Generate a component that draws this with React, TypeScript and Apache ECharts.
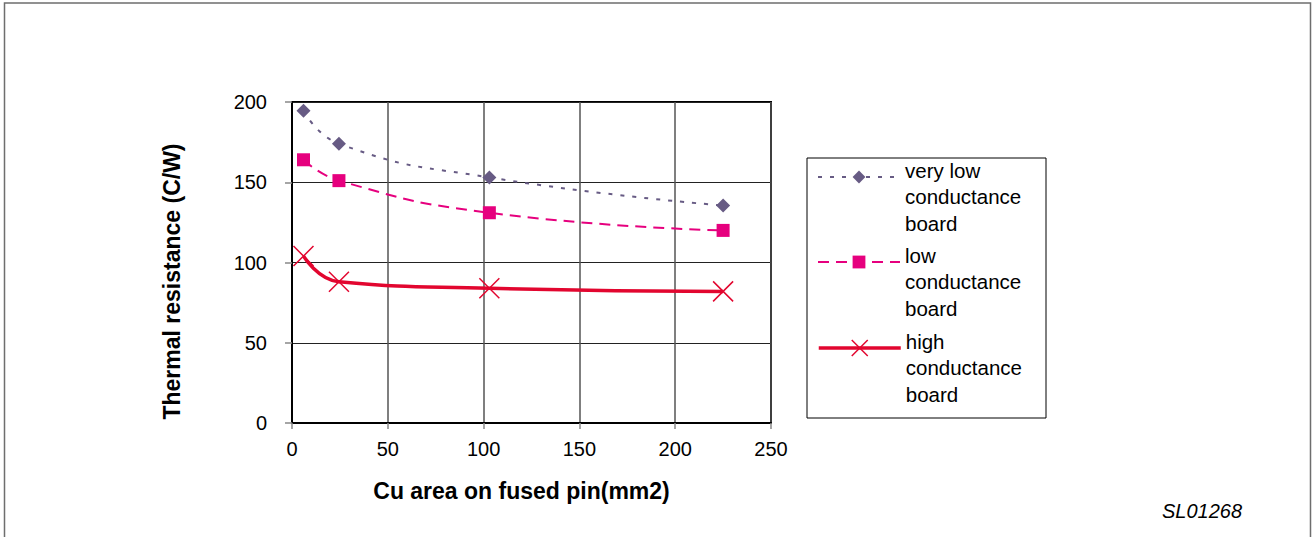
import React, { useEffect, useRef } from "react";
import * as echarts from "echarts";

// ---- data ----
const areaMm2 = [6, 24.5, 103, 225];
const veryLowBoard = [194.5, 174, 153, 135.5];
const lowBoard = [164, 151, 131, 120];
const highBoard = [104, 88, 84, 82];
const seriesNames = [
  "very low\nconductance\nboard",
  "low\nconductance\nboard",
  "high\nconductance\nboard",
];
const xRange = { min: 0, max: 250, step: 50 };
const yRange = { min: 0, max: 200, step: 50 };
const xTitle = "Cu area on fused pin(mm2)";
const yTitle = "Thermal resistance (C/W)";
const figureId = "SL01268";

const FONT = '"Liberation Sans", Arial, Helvetica, sans-serif';
const PURPLE = "#675b84";
const MAGENTA = "#e6007e";
const RED = "#e2062f";
const X_SYMBOL = "path://M0,0L10,10M10,0L0,10";

const pairs = (xs: number[], ys: number[]) => xs.map((x, i) => [x, ys[i]]);

const LEG_LH = 26.5;
const LEG_SHIFT = 7;
const LEG_GAP = 2 * LEG_LH - 2 * LEG_SHIFT;

function makeLegend(name: string, iconY: number, itemHeight: number, lineWidth: number, itemStyle: any) {
  return {
    show: true,
    data: [{ name }],
    left: 817,
    top: iconY - (LEG_GAP + 3 * LEG_LH) / 2 + 10,
    padding: 0,
    orient: "vertical",
    itemWidth: 82,
    itemHeight,
    selectedMode: false,
    lineStyle: { width: lineWidth },
    itemStyle,
    formatter: (n: string) =>
      "{g|}\n" + n.split("\n").map((s) => `{t|${s}}`).join("\n"),
    textStyle: {
      fontFamily: FONT,
      fontSize: 20.5,
      color: "#000",
      rich: {
        g: { lineHeight: LEG_GAP, fontSize: 20.5, fontFamily: FONT },
        t: { lineHeight: LEG_LH, fontSize: 20.5, fontFamily: FONT, color: "#000" },
      },
    },
  };
}

export default function App() {
  const ref = useRef<HTMLDivElement>(null);

  useEffect(() => {
    document.body.style.margin = "0";
    const chart = echarts.init(ref.current!, undefined, { renderer: "svg" });
    const option: any = {
      animation: false,
      backgroundColor: "#fff",
      grid: {
        left: 292,
        right: 542,
        top: 102,
        bottom: 114,
        show: true,
        borderColor: "#000",
        borderWidth: 2,
      },
      xAxis: {
        type: "value",
        min: xRange.min,
        max: xRange.max,
        interval: xRange.step,
        axisLine: { show: true, onZero: false, lineStyle: { color: "#000", width: 2 } },
        axisTick: { show: true, length: 6, lineStyle: { color: "#888", width: 1.5 } },
        axisLabel: { color: "#000", fontSize: 20, fontFamily: FONT, margin: 16 },
        splitLine: { show: true, lineStyle: { color: "#555", width: 1.5 } },
        name: xTitle,
        nameLocation: "middle",
        nameGap: 56,
        nameTextStyle: {
          fontFamily: FONT,
          fontWeight: "bold",
          fontSize: 23,
          color: "#000",
          padding: [0, 20, 0, 0],
        },
      },
      yAxis: {
        type: "value",
        min: yRange.min,
        max: yRange.max,
        interval: yRange.step,
        axisLine: { show: true, onZero: false, lineStyle: { color: "#000", width: 2 } },
        axisTick: { show: true, length: 7, lineStyle: { color: "#888", width: 1.5 } },
        axisLabel: {
          color: "#000",
          fontSize: 20,
          fontFamily: FONT,
          margin: 25,
        },
        splitLine: { show: true, lineStyle: { color: "#222", width: 1 } },
        name: yTitle,
        nameLocation: "middle",
        nameGap: 109,
        nameTextStyle: {
          fontFamily: FONT,
          fontWeight: "bold",
          fontSize: 23,
          color: "#000",
          padding: [0, 38, 0, 0],
        },
      },
      legend: [
        makeLegend(seriesNames[0], 176, 16, 2, { borderWidth: 0 }),
        makeLegend(seriesNames[1], 261, 16, 2, { borderWidth: 0 }),
        makeLegend(seriesNames[2], 347, 20, 3.5, { borderWidth: 1.5, borderColor: RED }),
      ],
      series: [
        {
          name: seriesNames[0],
          type: "line",
          data: pairs(areaMm2, veryLowBoard),
          smooth: 0.5,
          symbol: "diamond",
          symbolSize: 14,
          itemStyle: { color: PURPLE },
          lineStyle: { color: PURPLE, width: 2, type: [4, 8] },
          z: 3,
        },
        {
          name: seriesNames[1],
          type: "line",
          data: pairs(areaMm2, lowBoard),
          smooth: 0.5,
          symbol: "rect",
          symbolSize: 13,
          itemStyle: { color: MAGENTA },
          lineStyle: { color: MAGENTA, width: 2, type: [11, 7] },
          z: 4,
        },
        {
          name: seriesNames[2],
          type: "line",
          data: pairs(areaMm2, highBoard),
          smooth: 0.5,
          symbol: X_SYMBOL,
          symbolSize: 20,
          itemStyle: { color: RED, borderColor: RED, borderWidth: 1.5 },
          lineStyle: { color: RED, width: 3.5 },
          z: 5,
        },
      ],
      graphic: [
        {
          type: "rect",
          shape: { x: 4.5, y: 3, width: 1306, height: 560 },
          style: { fill: "none", stroke: "#6e6e6e", lineWidth: 1.5 },
          silent: true,
        },
        {
          type: "rect",
          shape: { x: 807, y: 158, width: 239, height: 260 },
          style: { fill: "none", stroke: "#000", lineWidth: 1 },
          silent: true,
        },
        {
          type: "text",
          x: 1202,
          y: 511,
          style: {
            text: figureId,
            fontFamily: FONT,
            fontStyle: "italic",
            fontSize: 20,
            fill: "#000",
            align: "center",
            verticalAlign: "middle",
          },
          silent: true,
        },
      ],
    };
    chart.setOption(option);
    return () => chart.dispose();
  }, []);

  return <div ref={ref} style={{ width: 1313, height: 537 }} />;
}
